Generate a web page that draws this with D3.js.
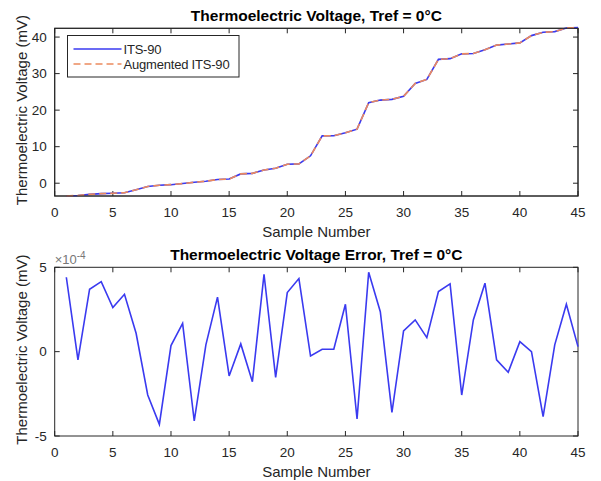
<!DOCTYPE html>
<html>
<head>
<meta charset="utf-8">
<script src="https://cdn.jsdelivr.net/npm/d3@7"></script>
<style>
  html, body { margin: 0; padding: 0; background: #fff; }
  svg { display: block; font-family: "Liberation Sans", Arial, sans-serif; }
</style>
</head>
<body>
<svg id="chart" width="601" height="481"></svg>
<script>
// ---------- data ----------
const samples = [1,2,3,4,5,6,7,8,9,10,11,12,13,14,15,16,17,18,19,20,21,22,23,24,25,26,27,28,29,30,31,32,33,34,35,36,37,38,39,40,41,42,43,44,45];

// Thermoelectric voltage (mV), ITS-90
const its90 = [-3.5,-3.35,-3.05,-2.85,-2.75,-2.6,-1.8,-0.9,-0.55,-0.4,-0.1,0.25,0.55,1.0,1.15,2.55,2.7,3.6,4.1,5.2,5.3,7.5,12.95,13.0,13.8,14.8,22.05,22.75,22.95,23.8,27.3,28.4,33.9,34.1,35.4,35.5,36.5,37.8,38.1,38.4,40.4,41.3,41.5,42.5,42.6];
// Augmented ITS-90 (mV) — visually identical to ITS-90
const augmented = [-3.5,-3.35,-3.05,-2.85,-2.75,-2.6,-1.8,-0.9,-0.55,-0.4,-0.1,0.25,0.55,1.0,1.15,2.55,2.7,3.6,4.1,5.2,5.3,7.5,12.95,13.0,13.8,14.8,22.05,22.75,22.95,23.8,27.3,28.4,33.9,34.1,35.4,35.5,36.5,37.8,38.1,38.4,40.4,41.3,41.5,42.5,42.6];

// Error (mV)
const voltageError = [4.41e-4,-0.49e-4,3.70e-4,4.15e-4,2.61e-4,3.40e-4,1.09e-4,-2.57e-4,-4.31e-4,0.36e-4,1.68e-4,-4.11e-4,0.40e-4,3.23e-4,-1.44e-4,0.46e-4,-1.78e-4,4.59e-4,-1.52e-4,3.50e-4,4.33e-4,-0.26e-4,0.14e-4,0.14e-4,2.81e-4,-3.99e-4,4.71e-4,2.37e-4,-3.60e-4,1.23e-4,1.88e-4,0.83e-4,3.56e-4,4.02e-4,-2.57e-4,1.88e-4,4.06e-4,-0.49e-4,-1.22e-4,0.59e-4,0.0,-3.85e-4,0.40e-4,2.81e-4,0.30e-4];

const xTicks = [0,5,10,15,20,25,30,35,40,45];
const yTicksTop = [0,10,20,30,40];
const yTicksBottom = [-5e-4,0,5e-4];
const titles = ["Thermoelectric Voltage, Tref = 0\u00B0C", "Thermoelectric Voltage Error, Tref = 0\u00B0C"];
const xLabel = "Sample Number";
const yLabel = "Thermoelectric Voltage (mV)";
const legendNames = ["ITS-90", "Augmented ITS-90"];

// ---------- layout ----------
const svg = d3.select("#chart");
const axisColor = "#262626";
const blue = "#3a3af0";
const orange = "#ec8a5e";
const left = 54.7, right = 578;

const x = d3.scaleLinear().domain([0, 45]).range([left, right]);

function drawAxes(yScale, top, bottom, yTicks, yFmt, title) {
  const g = svg.append("g");
  // box
  g.append("rect").attr("x", left).attr("y", top)
    .attr("width", right - left).attr("height", bottom - top)
    .attr("fill", "#fff").attr("stroke", axisColor).attr("stroke-width", 1);
  // x ticks (inside, bottom & top)
  xTicks.forEach(t => {
    const px = x(t);
    g.append("line").attr("x1", px).attr("x2", px).attr("y1", bottom).attr("y2", bottom - 5)
      .attr("stroke", axisColor);
    g.append("line").attr("x1", px).attr("x2", px).attr("y1", top).attr("y2", top + 5)
      .attr("stroke", axisColor);
    g.append("text").attr("x", px).attr("y", bottom + 21)
      .attr("text-anchor", "middle").attr("font-size", 13.5).attr("fill", axisColor)
      .text(t);
  });
  // y ticks
  yTicks.forEach(t => {
    const py = yScale(t);
    g.append("line").attr("x1", left).attr("x2", left + 5).attr("y1", py).attr("y2", py)
      .attr("stroke", axisColor);
    g.append("line").attr("x1", right).attr("x2", right - 5).attr("y1", py).attr("y2", py)
      .attr("stroke", axisColor);
    g.append("text").attr("x", left - 8).attr("y", py + 4.7)
      .attr("text-anchor", "end").attr("font-size", 13.5).attr("fill", axisColor)
      .text(yFmt(t));
  });
  // title
  g.append("text").attr("x", (left + right) / 2).attr("y", top - 7)
    .attr("text-anchor", "middle").attr("font-size", 15.5).attr("font-weight", "bold")
    .attr("fill", "#000").text(title);
  // x label
  g.append("text").attr("x", (left + right) / 2).attr("y", bottom + 41)
    .attr("text-anchor", "middle").attr("font-size", 15).attr("fill", axisColor)
    .text(xLabel);
  // y label
  const cy = (top + bottom) / 2 - 2;
  g.append("text").attr("transform", `translate(26.5,${cy}) rotate(-90)`)
    .attr("text-anchor", "middle").attr("font-size", 15).attr("fill", axisColor)
    .text(yLabel);
  return g;
}

// ---------- top plot ----------
const top1 = 28.3, bot1 = 196;
const y1 = d3.scaleLinear().domain([-3.5, 42.4]).range([bot1, top1]);
const g1 = drawAxes(y1, top1, bot1, yTicksTop, d => d, titles[0]);

const line1 = d3.line().x((d, i) => x(samples[i])).y(d => y1(d));
g1.append("path").datum(its90).attr("d", line1)
  .attr("fill", "none").attr("stroke", blue).attr("stroke-width", 1.6);
g1.append("path").datum(augmented).attr("d", line1)
  .attr("fill", "none").attr("stroke", orange).attr("stroke-width", 1.6)
  .attr("stroke-dasharray", "7,4");
// redraw box edges on top
g1.append("rect").attr("x", left).attr("y", top1).attr("width", right - left).attr("height", bot1 - top1)
  .attr("fill", "none").attr("stroke", axisColor);

// legend
const lg = g1.append("g");
lg.append("rect").attr("x", 67.5).attr("y", 35.5).attr("width", 171.5).attr("height", 41.5)
  .attr("fill", "#fff").attr("stroke", axisColor).attr("stroke-width", 1);
const legendColors = [blue, orange];
const legendDash = [null, "7,4"];
[49, 64].forEach((ly, i) => {
  const l = lg.append("line").attr("x1", 73.5).attr("x2", 121.5).attr("y1", ly).attr("y2", ly)
    .attr("stroke", legendColors[i]).attr("stroke-width", 1.6);
  if (legendDash[i]) l.attr("stroke-dasharray", legendDash[i]);
  lg.append("text").attr("x", 123.5).attr("y", ly + 4.5).attr("font-size", 13)
    .attr("fill", axisColor).attr("letter-spacing", -0.2).text(legendNames[i]);
});

// ---------- bottom plot ----------
const top2 = 267.3, bot2 = 436;
const y2 = d3.scaleLinear().domain([-5e-4, 5e-4]).range([bot2, top2]);
const g2 = drawAxes(y2, top2, bot2, yTicksBottom, d => Math.round(d / 1e-4), titles[1]);

const line2 = d3.line().x((d, i) => x(samples[i])).y(d => y2(d));
g2.append("path").datum(voltageError).attr("d", line2)
  .attr("fill", "none").attr("stroke", blue).attr("stroke-width", 1.6);

// exponent label
const ex = g2.append("text").attr("x", left).attr("y", top2 - 3.5)
  .attr("font-size", 13).attr("fill", "#777");
ex.append("tspan").text("\u00D710");
ex.append("tspan").attr("dy", -5).attr("font-size", 10).text("-4");
</script>
</body>
</html>
